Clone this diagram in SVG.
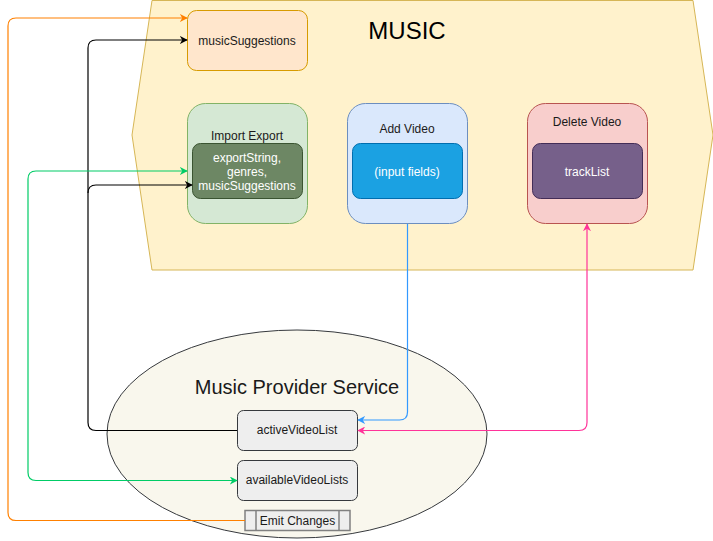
<svg xmlns="http://www.w3.org/2000/svg" width="713" height="541" viewBox="0 0 713 541">
<style>
text{font-family:"Liberation Sans",Arial,sans-serif;text-anchor:middle;}
.lbl{font-size:12px;fill:#1a1a1a;}
.w{font-size:12px;fill:#ffffff;}
.c{fill:none;stroke-width:1.2;}
</style>
<defs>
<marker id="aO" viewBox="0 0 10 10" refX="9" refY="5" markerWidth="8" markerHeight="8" orient="auto-start-reverse" markerUnits="userSpaceOnUse"><path d="M0,0 L10,5 L0,10 L3,5 z" fill="#FF8000"/></marker>
<marker id="aK" viewBox="0 0 10 10" refX="9" refY="5" markerWidth="8" markerHeight="8" orient="auto-start-reverse" markerUnits="userSpaceOnUse"><path d="M0,0 L10,5 L0,10 L3,5 z" fill="#000000"/></marker>
<marker id="aG" viewBox="0 0 10 10" refX="9" refY="5" markerWidth="8" markerHeight="8" orient="auto-start-reverse" markerUnits="userSpaceOnUse"><path d="M0,0 L10,5 L0,10 L3,5 z" fill="#00CC66"/></marker>
<marker id="aB" viewBox="0 0 10 10" refX="9" refY="5" markerWidth="8" markerHeight="8" orient="auto-start-reverse" markerUnits="userSpaceOnUse"><path d="M0,0 L10,5 L0,10 L3,5 z" fill="#3399FF"/></marker>
<marker id="aP" viewBox="0 0 10 10" refX="9" refY="5" markerWidth="8" markerHeight="8" orient="auto-start-reverse" markerUnits="userSpaceOnUse"><path d="M0,0 L10,5 L0,10 L3,5 z" fill="#FF3399"/></marker>
</defs>

<g id="music">
<polygon points="152,0.5 693,0.5 713,135 693,270 152,270 132,135" fill="#fff2cc" stroke="#d6b656"/>
<text x="407" y="39" style="font-size:24px;fill:#000">MUSIC</text>
</g>

<g id="musicSuggestions">
<rect x="187.5" y="10.5" width="120" height="60" rx="9" fill="#ffe6cc" stroke="#d79b00"/>
<text class="lbl" x="247" y="45">musicSuggestions</text>
</g>

<g id="importExport">
<rect x="187.5" y="103.5" width="120" height="120" rx="18" fill="#d5e8d4" stroke="#82b366"/>
<text class="lbl" x="247" y="140">Import Export</text>
<rect x="192.5" y="143.5" width="110" height="55" rx="8" fill="#6d8764" stroke="#3A5431"/>
<text class="w" x="247" y="162">exportString,</text>
<text class="w" x="247" y="176">genres,</text>
<text class="w" x="247" y="190">musicSuggestions</text>
</g>

<g id="addVideo">
<rect x="347.5" y="103.5" width="120" height="120" rx="18" fill="#dae8fc" stroke="#6c8ebf"/>
<text class="lbl" x="407" y="133">Add Video</text>
<rect x="352.5" y="143.5" width="110" height="55" rx="8" fill="#1ba1e2" stroke="#006EAF"/>
<text class="w" x="407" y="176">(input fields)</text>
</g>

<g id="deleteVideo">
<rect x="527.5" y="103.5" width="120" height="120" rx="18" fill="#f8cecc" stroke="#b85450"/>
<text class="lbl" x="587" y="126">Delete Video</text>
<rect x="532.5" y="143.5" width="110" height="55" rx="8" fill="#76608a" stroke="#432D57"/>
<text class="w" x="587" y="176">trackList</text>
</g>

<g id="musicProviderService">
<ellipse cx="297" cy="434" rx="190" ry="104" fill="#f9f7ed" stroke="#36393d"/>
<text x="297" y="394" style="font-size:20px;fill:#1a1a1a">Music Provider Service</text>
</g>

<g id="activeVideoList">
<rect x="237.5" y="410.5" width="120" height="40" rx="6" fill="#eeeeee" stroke="#36393d"/>
<text class="lbl" x="297" y="434">activeVideoList</text>
</g>

<g id="availableVideoLists">
<rect x="237.5" y="460.5" width="120" height="40" rx="6" fill="#eeeeee" stroke="#36393d"/>
<text class="lbl" x="297" y="484">availableVideoLists</text>
</g>

<g id="emitChanges">
<rect x="245" y="510.5" width="105" height="20" fill="#eeeeee" stroke="#808080" stroke-width="1.5"/>
<line x1="256" y1="510.5" x2="256" y2="530.5" stroke="#808080" stroke-width="1.5"/>
<line x1="339" y1="510.5" x2="339" y2="530.5" stroke="#808080" stroke-width="1.5"/>
<text class="lbl" x="297.5" y="525">Emit Changes</text>
</g>

<g id="connectors">
<path class="c" stroke="#FF8000" d="M245,520.5 H16 Q8,520.5 8,512.5 V26 Q8,18 16,18 H187" marker-end="url(#aO)"/>
<path class="c" stroke="#000000" d="M237,430.5 H96 Q88,430.5 88,422.5 V48 Q88,40 96,40 H187" marker-end="url(#aK)"/>
<path class="c" stroke="#000000" d="M88,193 Q88,185 96,185 H192" marker-end="url(#aK)"/>
<path class="c" stroke="#00CC66" d="M187,171 H36 Q28,171 28,179 V472.5 Q28,480.5 36,480.5 H237" marker-start="url(#aG)" marker-end="url(#aG)"/>
<path class="c" stroke="#3399FF" d="M407.5,224 V412 Q407.5,420 399.5,420 H358" marker-end="url(#aB)"/>
<path class="c" stroke="#FF3399" d="M358,430.5 H579 Q587,430.5 587,422.5 V224" marker-start="url(#aP)" marker-end="url(#aP)"/>
</g>
</svg>
